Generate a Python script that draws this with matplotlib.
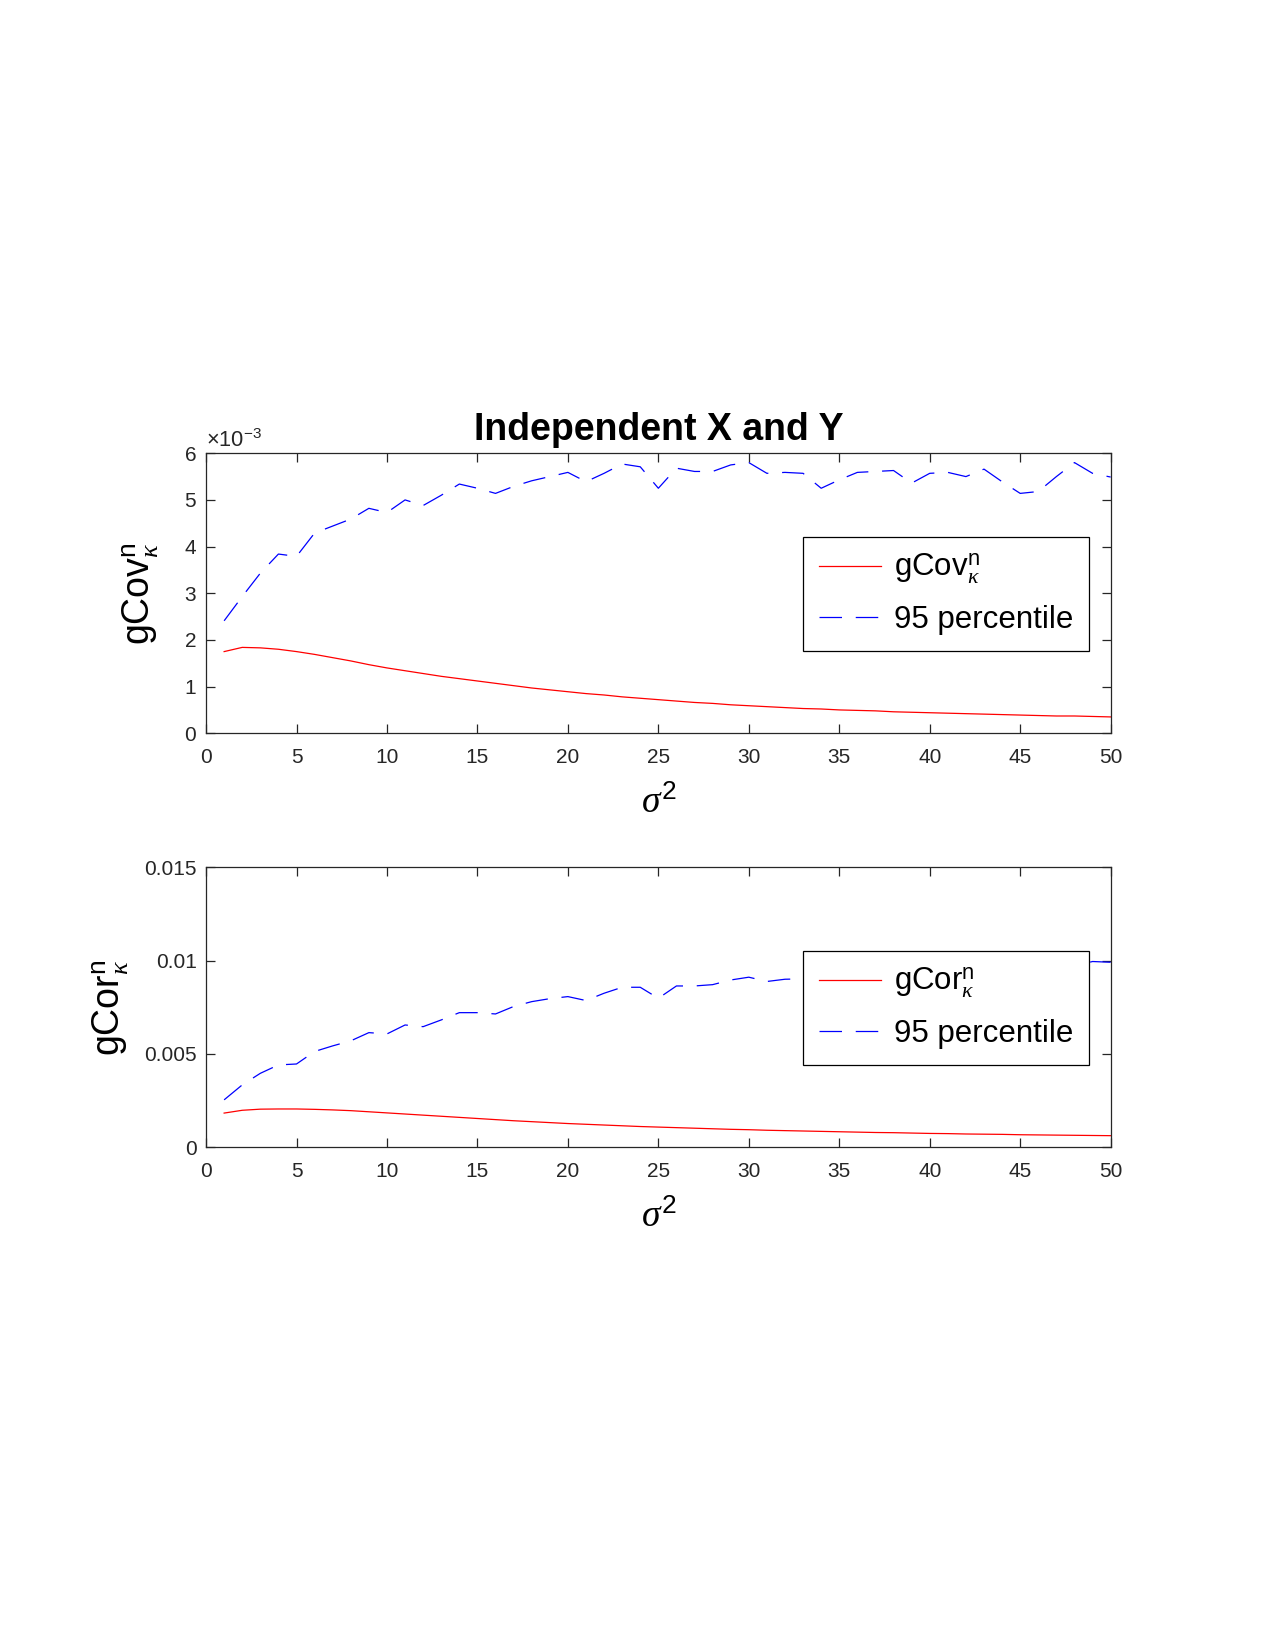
import numpy as np
import matplotlib.pyplot as plt
from matplotlib.ticker import FuncFormatter

plt.rcParams['font.family'] = ['Liberation Sans', 'DejaVu Sans']
plt.rcParams['mathtext.fontset'] = 'custom'
plt.rcParams['mathtext.rm'] = 'Liberation Sans'
plt.rcParams['mathtext.sf'] = 'Liberation Sans'
plt.rcParams['mathtext.it'] = 'Liberation Serif:italic'
plt.rcParams['mathtext.bf'] = 'Liberation Sans:bold'

# sigma^2 grid
sigma2 = np.arange(1, 51)

# gCov (x 1e-3)
gcov = [1.75, 1.84, 1.83, 1.80, 1.75, 1.69, 1.62, 1.55, 1.47, 1.40,
        1.34, 1.28, 1.22, 1.17, 1.12, 1.07, 1.02, 0.97, 0.93, 0.89,
        0.85, 0.82, 0.78, 0.75, 0.72, 0.69, 0.66, 0.64, 0.61, 0.59,
        0.57, 0.55, 0.53, 0.52, 0.50, 0.49, 0.48, 0.46, 0.45, 0.44,
        0.43, 0.42, 0.41, 0.40, 0.39, 0.38, 0.37, 0.37, 0.36, 0.35]
gcov_p95 = [2.41, 2.93, 3.43, 3.84, 3.79, 4.29, 4.44, 4.59, 4.82, 4.73,
            5.00, 4.88, 5.10, 5.34, 5.25, 5.14, 5.29, 5.41, 5.50, 5.59,
            5.39, 5.57, 5.77, 5.71, 5.25, 5.68, 5.61, 5.61, 5.75, 5.80,
            5.57, 5.59, 5.57, 5.25, 5.43, 5.59, 5.61, 5.63, 5.36, 5.57,
            5.59, 5.50, 5.66, 5.39, 5.14, 5.18, 5.50, 5.80, 5.57, 5.49]

# gCor (x 1e-3)
gcor = [1.83, 1.98, 2.04, 2.05, 2.05, 2.03, 2.00, 1.96, 1.90, 1.84,
        1.78, 1.72, 1.66, 1.60, 1.54, 1.48, 1.42, 1.37, 1.32, 1.27,
        1.23, 1.19, 1.15, 1.11, 1.08, 1.05, 1.02, 0.99, 0.96, 0.94,
        0.91, 0.89, 0.87, 0.85, 0.83, 0.81, 0.79, 0.78, 0.76, 0.74,
        0.73, 0.71, 0.70, 0.69, 0.67, 0.66, 0.65, 0.64, 0.63, 0.62]
gcor_p95 = [2.54, 3.34, 3.96, 4.41, 4.46, 5.13, 5.43, 5.70, 6.14, 6.07,
            6.55, 6.46, 6.82, 7.21, 7.21, 7.14, 7.54, 7.80, 7.96, 8.07,
            7.86, 8.25, 8.57, 8.57, 7.98, 8.64, 8.64, 8.71, 8.96, 9.11,
            8.88, 9.00, 9.02, 9.00, 9.20, 9.10, 9.30, 9.20, 9.40, 9.30,
            9.50, 9.40, 9.60, 9.50, 9.70, 9.60, 9.80, 9.70, 9.95, 9.91]

gcov = np.array(gcov) * 1e-3
gcov_p95 = np.array(gcov_p95) * 1e-3
gcor = np.array(gcor) * 1e-3
gcor_p95 = np.array(gcor_p95) * 1e-3

axcol = (0.15, 0.15, 0.15)
dash = (0, (18, 11))

fig = plt.figure(figsize=(8.5, 11), dpi=150)
ax1 = fig.add_axes([0.1616, 0.5556, 0.7095, 0.1697])
ax2 = fig.add_axes([0.1616, 0.3047, 0.7095, 0.1697])


def style_axes(ax):
    for s in ax.spines.values():
        s.set_linewidth(0.6)
        s.set_color(axcol)
    ax.tick_params(direction='in', length=4.5, width=0.6, top=True, right=True,
                   labelsize=10, colors=axcol, labelcolor=axcol)
    ax.tick_params(axis='x', pad=7)
    ax.tick_params(axis='y', pad=4.5)
    ax.set_xlim(0, 50)
    ax.set_xticks(np.arange(0, 51, 5))
    ax.set_xlabel(r'$\sigma^{\mathsf{2}}$', fontsize=18)
    ax.xaxis.set_label_coords(0.5, -0.185)


def make_legend(ax):
    leg = ax.legend(loc='upper right', bbox_to_anchor=(0.976, 0.702), fontsize=15,
                    fancybox=False, framealpha=1, edgecolor='k', handlelength=2.0,
                    borderpad=0.5, labelspacing=0.6, handletextpad=0.4,
                    borderaxespad=0)
    leg.get_frame().set_linewidth(0.6)
    return leg


ax1.plot(sigma2, gcov, color='r', lw=0.6, label=r'$\mathsf{gCov}^{\mathsf{n}}_{\kappa}$')
ax1.plot(sigma2, gcov_p95, color='b', lw=0.6, ls=dash, label='95 percentile')
style_axes(ax1)
ax1.set_ylim(0, 0.006)
ax1.set_yticks(np.arange(0, 0.0061, 0.001))
ax1.ticklabel_format(axis='y', style='sci', scilimits=(0, 0), useMathText=True)
ax1.yaxis.get_offset_text().set_fontsize(10.5)
ax1.yaxis.get_offset_text().set_color(axcol)
ax1.set_ylabel(r'$\mathsf{gCov}^{\mathsf{n}}_{\kappa}$', fontsize=18)
ax1.yaxis.set_label_coords(-0.05, 0.5)
ax1.set_title('Independent X and Y', fontsize=18, fontweight='bold', pad=6.5)
make_legend(ax1)

ax2.plot(sigma2, gcor, color='r', lw=0.6, label=r'$\mathsf{gCor}^{\mathsf{n}}_{\kappa}$')
ax2.plot(sigma2, gcor_p95, color='b', lw=0.6, ls=dash, label='95 percentile')
style_axes(ax2)
ax2.set_ylim(0, 0.015)
ax2.set_yticks([0, 0.005, 0.01, 0.015])
ax2.yaxis.set_major_formatter(FuncFormatter(lambda v, p: '%g' % round(v, 6)))
ax2.set_ylabel(r'$\mathsf{gCor}^{\mathsf{n}}_{\kappa}$', fontsize=18)
ax2.yaxis.set_label_coords(-0.083, 0.5)
make_legend(ax2)

fig.savefig('out.png', dpi=150)
